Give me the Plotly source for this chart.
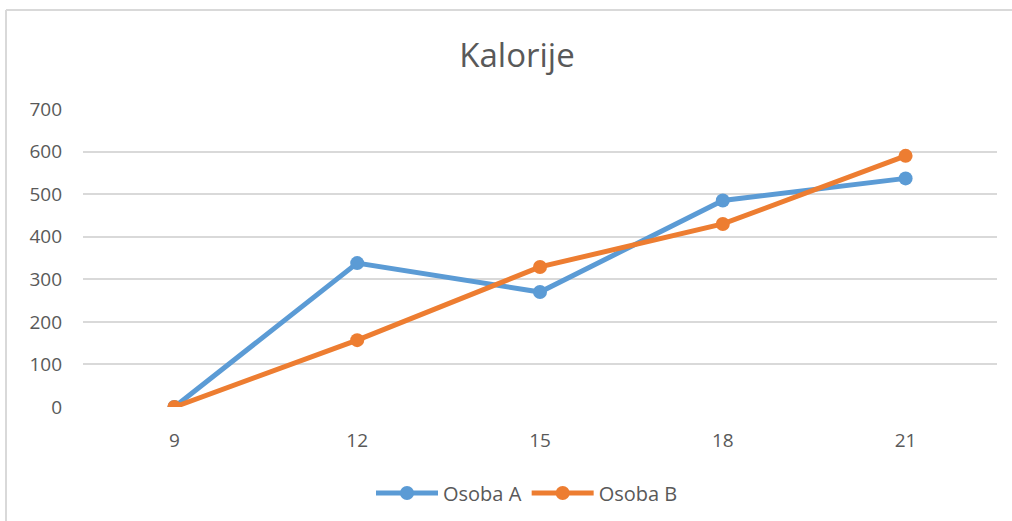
import plotly.graph_objects as go

categories = ["9", "12", "15", "18", "21"]
osoba_a = [0, 338, 270, 485, 537]
osoba_b = [0, 157, 329, 430, 590]
y_ticks = [0, 100, 200, 300, 400, 500, 600, 700]

BLUE = "#5B9BD5"
ORANGE = "#ED7D31"
TEXT = "#595959"
GRID = "#D9D9D9"
FONT = "Open Sans"

fig = go.Figure()
fig.add_trace(go.Scatter(x=categories, y=osoba_a, name="Osoba A", mode="lines+markers",
                         line=dict(color=BLUE, width=5), marker=dict(color=BLUE, size=14)))
fig.add_trace(go.Scatter(x=categories, y=osoba_b, name="Osoba B", mode="lines+markers",
                         line=dict(color=ORANGE, width=5), marker=dict(color=ORANGE, size=14)))

W, H = 1012, 521
L, R, T, B = 83, 15, 109, 114
pw, ph = W - L - R, H - T - B

def px_x(x):
    return (x - L) / pw

def px_y(y):
    return (H - B - y) / ph

fig.update_layout(
    width=W, height=H,
    margin=dict(l=L, r=R, t=T, b=B, autoexpand=False),
    paper_bgcolor="white", plot_bgcolor="white",
    font=dict(family=FONT, color=TEXT, size=19),
    title=dict(text="Kalorije", x=517 / W, xanchor="center", y=1 - 55 / H, yanchor="middle",
               font=dict(size=33, color=TEXT, family=FONT)),
    xaxis=dict(type="category", range=[-0.5, 4.5], showgrid=False, zeroline=False,
               showline=False, ticks="", tickfont=dict(size=19, color=TEXT), ticklabelstandoff=20,
               automargin=False),
    yaxis=dict(range=[0, 700], tickvals=y_ticks, showgrid=True, gridcolor=GRID, gridwidth=2,
               zeroline=False, showline=False, ticks="", tickfont=dict(size=19, color=TEXT),
               ticklabelstandoff=20, automargin=False),
    showlegend=True,
    legend=dict(orientation="h", x=px_x(527), xanchor="center", y=px_y(493), yanchor="middle",
                font=dict(size=20, color=TEXT), itemwidth=62),
    shapes=[
        dict(type="line", xref="paper", yref="paper", x0=px_x(6), x1=px_x(1015),
             y0=px_y(10), y1=px_y(10), line=dict(color=GRID, width=2)),
        dict(type="line", xref="paper", yref="paper", x0=px_x(6), x1=px_x(6),
             y0=px_y(10), y1=px_y(525), line=dict(color=GRID, width=2)),
    ],
)

fig.write_html("out.html", config={"displayModeBar": False},
               post_script="document.body.style.margin='0';")
